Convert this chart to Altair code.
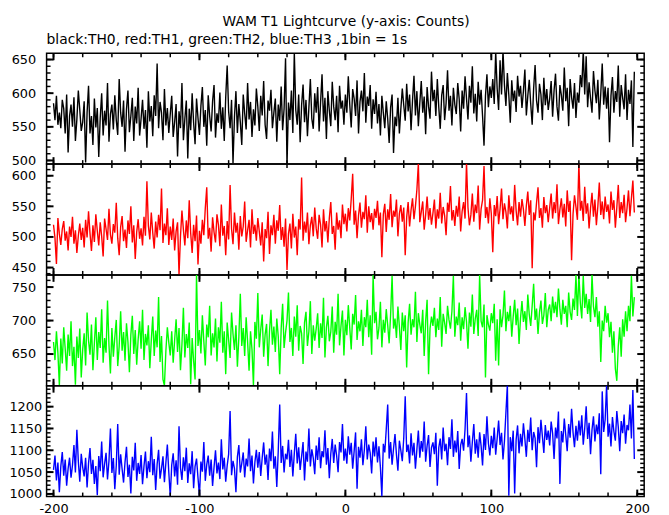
import altair as alt
import pandas as pd

T0 = -200  # first bin time (s), 1 bin = 1 s

th0 = [
585, 560, 596, 553, 571, 548, 590, 577, 540, 598, 512, 566, 583, 550, 594, 529, 561, 604, 575, 544,
557, 588, 497, 571, 611, 540, 566, 523, 592, 549, 578, 505, 563, 600, 537, 574, 552, 615, 528, 569,
583, 546, 597, 560, 538, 621, 571, 550, 589, 513, 576, 604, 542, 566, 593, 529, 580, 555, 608, 537,
562, 590, 547, 575, 519, 603, 558, 581, 536, 597, 566, 644, 548, 587, 571, 530, 606, 552, 578, 541,
569, 596, 535, 557, 584, 506, 573, 548, 615, 530, 562, 589, 503, 577, 545, 600, 556, 524, 592, 563,
538, 581, 609, 550, 575, 522, 597, 566, 543, 588, 612, 534, 570, 556, 601, 547, 579, 529, 594, 641,
573, 548, 590, 496, 565, 603, 541, 584, 557, 523, 598, 570, 546, 615, 561, 587, 535, 576, 552, 607,
580, 544, 596, 567, 618, 553, 532, 589, 574, 605, 548, 571, 592, 528, 583, 559, 610, 545, 577, 652,
492, 586, 560, 604, 541, 661, 575, 553, 598, 527, 582, 613, 557, 590, 536, 579, 621, 562, 547, 600,
571, 609, 543, 586, 628, 558, 593, 532, 603, 574, 551, 617, 580, 560, 596, 542, 611, 577, 589, 553,
598, 571, 625, 583, 549, 606, 592, 566, 619, 540, 587, 604, 573, 630, 556, 595, 581, 612, 547, 591,
569, 602, 555, 584, 537, 596, 571, 548, 588, 562, 526, 579, 598, 511, 565, 551, 593, 540, 576, 607,
582, 559, 614, 573, 598, 545, 589, 626, 567, 603, 551, 585, 618, 571, 595, 539, 609, 580, 562, 632,
588, 605, 566, 621, 579, 547, 597, 612, 560, 585, 634, 574, 596, 552, 608, 583, 569, 615, 591, 543,
604, 577, 625, 592, 561, 611, 586, 640, 570, 599, 558, 617, 583, 605, 566, 522, 596, 628, 579, 610,
593, 621, 584, 662, 607, 575, 649, 598, 664, 612, 581, 630, 597, 556, 619, 588, 604, 572, 626, 595,
611, 578, 603, 635, 567, 596, 620, 584, 553, 607, 642, 589, 571, 614, 598, 560, 623, 582, 606, 575,
592, 618, 565, 604, 629, 580, 559, 612, 597, 574, 638, 588, 608, 551, 621, 594, 577, 615, 563, 601,
586, 627, 609, 663, 598, 655, 579, 616, 592, 571, 633, 604, 585, 620, 561, 599, 644, 583, 610, 577,
608, 527, 596, 624, 571, 603, 587, 641, 565, 612, 593, 576, 628, 560, 605, 584, 619, 520, 632,
]

th1 = [
520, 498, 456, 531, 505, 487, 513, 526, 494, 509, 478, 517, 500, 533, 489, 511, 474, 502, 522, 495,
515, 483, 528, 499, 542, 506, 477, 519, 492, 537, 510, 486, 524, 501, 468, 530, 513, 495, 546, 504,
489, 521, 507, 556, 498, 470, 516, 534, 493, 512, 482, 527, 505, 550, 491, 519, 464, 508, 529, 497,
514, 486, 533, 502, 591, 518, 496, 540, 507, 481, 525, 499, 536, 511, 579, 490, 522, 503, 547, 487,
517, 495, 530, 478, 509, 524, 438, 501, 543, 512, 486, 527, 498, 560, 506, 474, 520, 493, 535, 455,
510, 489, 528, 503, 547, 581, 497, 515, 476, 532, 508, 491, 537, 520, 485, 553, 502, 518, 470, 526,
496, 585, 513, 488, 540, 507, 523, 479, 534, 501, 517, 558, 492, 511, 528, 483, 545, 505, 520, 494,
531, 509, 486, 524, 460, 513, 498, 541, 472, 519, 503, 536, 489, 527, 510, 552, 495, 516, 484, 530,
446, 505, 522, 481, 538, 499, 517, 470, 529, 512, 597, 494, 525, 507, 540, 488, 519, 533, 501, 548,
514, 497, 536, 520, 483, 545, 509, 526, 491, 531, 557, 505, 518, 479, 540, 512, 527, 498, 553, 521,
538, 509, 547, 527, 562, 603, 520, 543, 498, 535, 556, 515, 541, 529, 568, 507, 550, 524, 539, 512,
546, 531, 559, 519, 540, 467, 537, 554, 508, 545, 528, 570, 516, 543, 533, 561, 501, 538, 552, 525,
548, 470, 532, 557, 517, 544, 563, 529, 550, 577, 620, 524, 541, 558, 512, 536, 566, 528, 547, 520,
539, 561, 514, 545, 530, 572, 522, 549, 535, 503, 556, 541, 583, 527, 544, 518, 551, 533, 566, 509,
542, 557, 530, 622, 548, 519, 536, 571, 525, 553, 539, 584, 512, 546, 560, 616, 531, 549, 522, 563,
538, 475, 552, 534, 567, 521, 546, 579, 529, 555, 541, 514, 568, 537, 550, 526, 585, 543, 519, 557,
533, 562, 545, 518, 551, 574, 536, 560, 449, 540, 527, 556, 581, 531, 547, 515, 565, 539, 552, 524,
548, 571, 530, 557, 539, 586, 521, 545, 563, 532, 554, 517, 576, 541, 559, 462, 537, 568, 549, 528,
621, 543, 559, 526, 582, 538, 555, 514, 547, 572, 533, 561, 519, 550, 589, 536, 558, 529, 566, 541,
553, 522, 574, 544, 560, 515, 548, 585, 531, 557, 539, 569, 524, 547, 576, 534, 563, 592, 540,
]

th2 = [
668, 641, 684, 652, 603, 673, 636, 690, 658, 625, 679, 647, 699, 632, 661, 604, 676, 644, 688, 615,
657, 681, 633, 712, 670, 649, 694, 626, 666, 705, 641, 683, 659, 717, 637, 674, 652, 730, 663, 621,
689, 646, 675, 701, 632, 662, 714, 655, 683, 640, 696, 668, 623, 679, 707, 650, 686, 634, 672, 699,
658, 716, 641, 680, 663, 693, 629, 671, 706, 647, 685, 660, 735, 638, 677, 612, 603, 655, 690, 667,
648, 684, 637, 671, 702, 653, 689, 626, 664, 719, 645, 680, 659, 697, 605, 674, 640, 612, 769, 662,
686, 651, 708, 669, 633, 694, 675, 722, 648, 681, 660, 703, 639, 690, 667, 728, 652, 684, 620, 697,
671, 644, 712, 680, 656, 693, 631, 675, 740, 662, 689, 647, 705, 668, 625, 684, 657, 603, 698, 673,
741, 660, 687, 709, 646, 679, 695, 632, 684, 716, 664, 691, 653, 703, 676, 620, 688, 725, 659, 682,
700, 742, 668, 689, 647, 706, 676, 723, 655, 692, 681, 635, 697, 713, 662, 684, 729, 650, 693, 670,
688, 711, 659, 696, 674, 734, 645, 690, 707, 669, 683, 721, 652, 698, 679, 740, 663, 692, 715, 648,
701, 678, 723, 689, 657, 710, 694, 738, 671, 699, 684, 716, 662, 705, 690, 731, 675, 708, 649, 768,
696, 713, 672, 689, 728, 660, 701, 682, 717, 693, 666, 709, 767, 688, 703, 674, 721, 691, 656, 712,
684, 708, 630, 697, 725, 679, 702, 690, 743, 668, 711, 694, 681, 716, 647, 699, 731, 620, 688, 706,
692, 719, 675, 703, 686, 735, 661, 710, 697, 680, 722, 701, 688, 714, 767, 676, 706, 693, 727, 670,
705, 687, 720, 698, 658, 712, 691, 739, 680, 703, 716, 677, 768, 699, 690, 724, 615, 708, 694, 685,
711, 696, 725, 640, 702, 633, 717, 690, 708, 745, 684, 713, 699, 722, 676, 706, 731, 693, 718, 665,
703, 729, 698, 714, 686, 739, 709, 692, 722, 755, 701, 718, 680, 712, 730, 695, 708, 741, 690, 716,
724, 699, 736, 711, 728, 705, 748, 717, 694, 731, 710, 722, 690, 742, 713, 701, 733, 716, 768, 707,
769, 726, 703, 767, 719, 740, 710, 732, 698, 768, 721, 705, 735, 691, 714, 638, 700, 684, 722, 697,
711, 675, 698, 652, 684, 628, 610, 662, 690, 646, 702, 676, 714, 684, 722, 699, 767, 706, 735,
]

th3 = [
1055, 1088, 1031, 1072, 1004, 1063, 1096, 1042, 1079, 1019, 1058, 1083, 1037, 1066, 1112, 1049, 1147, 1075, 1028, 1092,
1061, 1040, 1083, 1015, 1070, 1105, 1046, 1078, 1023, 1064, 997, 1087, 1052, 1120, 1038, 1069, 1094, 1033, 1076, 1150,
1048, 1082, 1011, 1065, 1160, 1044, 1091, 1057, 1026, 1073, 1108, 1039, 1067, 1001, 1085, 1054, 1117, 1030, 1071, 1046,
1089, 1022, 1064, 1097, 1036, 1075, 1050, 1131, 1043, 1080, 1009, 1068, 1101, 1035, 1058, 1086, 1027, 1072, 1113, 1049,
994, 1066, 1093, 1040, 1077, 1021, 1155, 1060, 1032, 1084, 1052, 1106, 1025, 1070, 1045, 1098, 1013, 1063, 1081, 1037,
996, 1074, 1051, 1119, 1030, 1067, 1088, 1042, 1079, 1018, 1061, 1100, 1047, 1072, 1034, 1125, 1056, 1083, 1028, 1065,
1091, 1190, 1043, 1076, 1058, 1004, 1085, 1112, 1049, 1070, 1095, 1038, 1081, 1063, 1127, 1052, 1088, 1024, 1073, 1101,
1060, 1096, 1041, 1083, 1118, 1067, 1090, 1032, 1104, 1075, 1143, 1058, 1086, 1016, 1099, 1205, 1071, 1110, 1049, 1092,
1079, 1124, 1062, 1101, 1040, 1093, 1138, 1070, 1107, 1055, 1086, 1119, 1031, 1097, 1074, 1150, 1063, 1102, 1082, 1045,
1111, 1078, 1130, 1059, 1098, 1084, 1146, 1067, 1105, 1036, 1092, 1126, 1071, 1113, 1088, 1050, 1119, 1095, 1160, 1076,
1104, 1069, 1132, 1090, 1117, 1058, 1098, 1141, 1012, 1108, 1083, 1125, 1066, 1101, 1155, 1079, 1113, 1094, 1047, 1120,
1086, 1130, 1072, 1109, 1061, 994, 1115, 1095, 1148, 1205, 1081, 1119, 1067, 1104, 1137, 1090, 1053, 1122, 1100, 1075,
1128, 1224, 1096, 1113, 1070, 1139, 1088, 1117, 1058, 1102, 1145, 1083, 1121, 1097, 1166, 1074, 1110, 1135, 1062, 1106,
1118, 1091, 1140, 1019, 1106, 1127, 1079, 1152, 1098, 1115, 1066, 1130, 1103, 1171, 1085, 1122, 1095, 1144, 1057, 1112,
1126, 1099, 1148, 1231, 1107, 1134, 1074, 1119, 1160, 1092, 1125, 1083, 1141, 1110, 1065, 1137, 1101, 1178, 1116, 1088,
1133, 1105, 1152, 1090, 1127, 1168, 1112, 1140, 1079, 1121, 1186, 1250, 996, 1130, 1098, 1145, 1001, 1124, 1157, 1093,
1138, 1109, 1162, 1126, 1085, 1147, 1119, 1175, 1100, 1142, 1128, 1061, 1153, 1116, 1170, 1132, 1094, 1158, 1124, 1145,
1111, 1166, 1139, 1080, 1152, 1127, 1189, 1023, 1144, 1118, 1173, 1135, 1098, 1160, 1129, 1195, 1141, 1107, 1156, 1122,
1168, 1134, 1180, 1113, 1150, 1201, 1126, 1163, 1091, 1147, 1178, 1120, 1159, 1137, 1185, 1045, 1235, 1142, 1170, 1250,
1131, 1161, 1109, 1176, 1143, 1122, 1190, 1153, 1098, 1167, 1139, 1182, 1115, 1158, 1146, 1205, 1127, 1238, 1080,
]

x_major = [-200, -100, 0, 100, 200]
x_minor = [-200, -180, -160, -140, -120, -100, -80, -60, -40, -20, 0,
           20, 40, 60, 80, 100, 120, 140, 160, 180, 200]

y_domains = [[494.6, 659.3], [438, 619], [602.7, 768.2], [994, 1248]]
y_major = [[500, 550, 600, 650], [450, 500, 550, 600], [650, 700, 750],
           [1000, 1050, 1100, 1150, 1200]]
y_minor = [list(range(500, 651, 10)), list(range(440, 611, 10)),
           list(range(610, 761, 10)), list(range(1000, 1241, 10))]
colors = ["#000000", "#ff0000", "#00ff00", "#0000ff"]
series = [th0, th1, th2, th3]

W, H = 604, 112
XDOM = [-204.75, 204.75]
FONT = "DejaVu Sans"
MAJ, MIN = 7, 4


def panel(k, title=None):
    vals = series[k]
    df = pd.DataFrame({"t": [T0 + i for i in range(len(vals))], "c": vals})
    xs = alt.Scale(domain=XDOM, nice=False, zero=False)
    ys = alt.Scale(domain=y_domains[k], nice=False, zero=False)
    if k == 3:
        xaxis = alt.Axis(values=x_major, ticks=False, domain=False, grid=False,
                         title=None, labelPadding=6, labelFont=FONT,
                         labelFontSize=13, labelColor="black",
                         labelExpr="datum.value + ''", labelFlush=False)
    else:
        xaxis = None
    yaxis = alt.Axis(values=y_major[k], ticks=False, domain=False, grid=False,
                     title=None, labelPadding=5 if k == 3 else 11,
                     labelFont=FONT, labelFontSize=13, labelColor="black",
                     labelExpr="datum.value + ''",
                     minExtent=38, maxExtent=38, labelFlush=False)

    line = alt.Chart(df).mark_line(color=colors[k], strokeWidth=1.4,
                                   clip=True).encode(
        x=alt.X("t:Q", scale=xs, axis=xaxis),
        y=alt.Y("c:Q", scale=ys, axis=yaxis),
    )
    layers = [line]
    for vals_t, ln, sw in [(y_major[k], MAJ, 2), (y_minor[k], MIN, 1.5)]:
        d = pd.DataFrame({"c": vals_t})
        for x1, x2 in [(0, ln), (W - ln, W)]:
            layers.append(
                alt.Chart(d).mark_rule(color="black", strokeWidth=sw).encode(
                    y=alt.Y("c:Q", scale=ys, axis=yaxis),
                    x=alt.value(x1), x2=alt.value(x2)))
    for vals_t, ln, sw in [(x_major, MAJ, 2), (x_minor, MIN, 1.5)]:
        d = pd.DataFrame({"t": vals_t})
        for y1, y2 in [(0, ln), (H - ln, H)]:
            layers.append(
                alt.Chart(d).mark_rule(color="black", strokeWidth=sw).encode(
                    x=alt.X("t:Q", scale=xs, axis=xaxis),
                    y=alt.value(y1), y2=alt.value(y2)))
    props = dict(width=W, height=H)
    if title:
        props["title"] = alt.TitleParams(title, anchor="start", frame="group",
                                         font=FONT, fontSize=14,
                                         fontWeight="normal", color="black",
                                         offset=5)
    return alt.layer(*layers).properties(**props)


chart = alt.vconcat(
    panel(0, "black:TH0, red:TH1, green:TH2, blue:TH3 ,1bin = 1s"),
    panel(1), panel(2), panel(3),
    spacing=0, bounds="flush",
).properties(
    title=alt.TitleParams("WAM T1 Lightcurve (y-axis: Counts)", anchor="middle",
                          font=FONT, fontSize=14, fontWeight="normal",
                          color="black", offset=4, dx=17),
    padding={"left": 0, "top": 4, "right": 10, "bottom": 5},
).configure_view(stroke="black", strokeWidth=1.5)

chart.save("out.html", embed_options={"renderer": "svg", "actions": False})
